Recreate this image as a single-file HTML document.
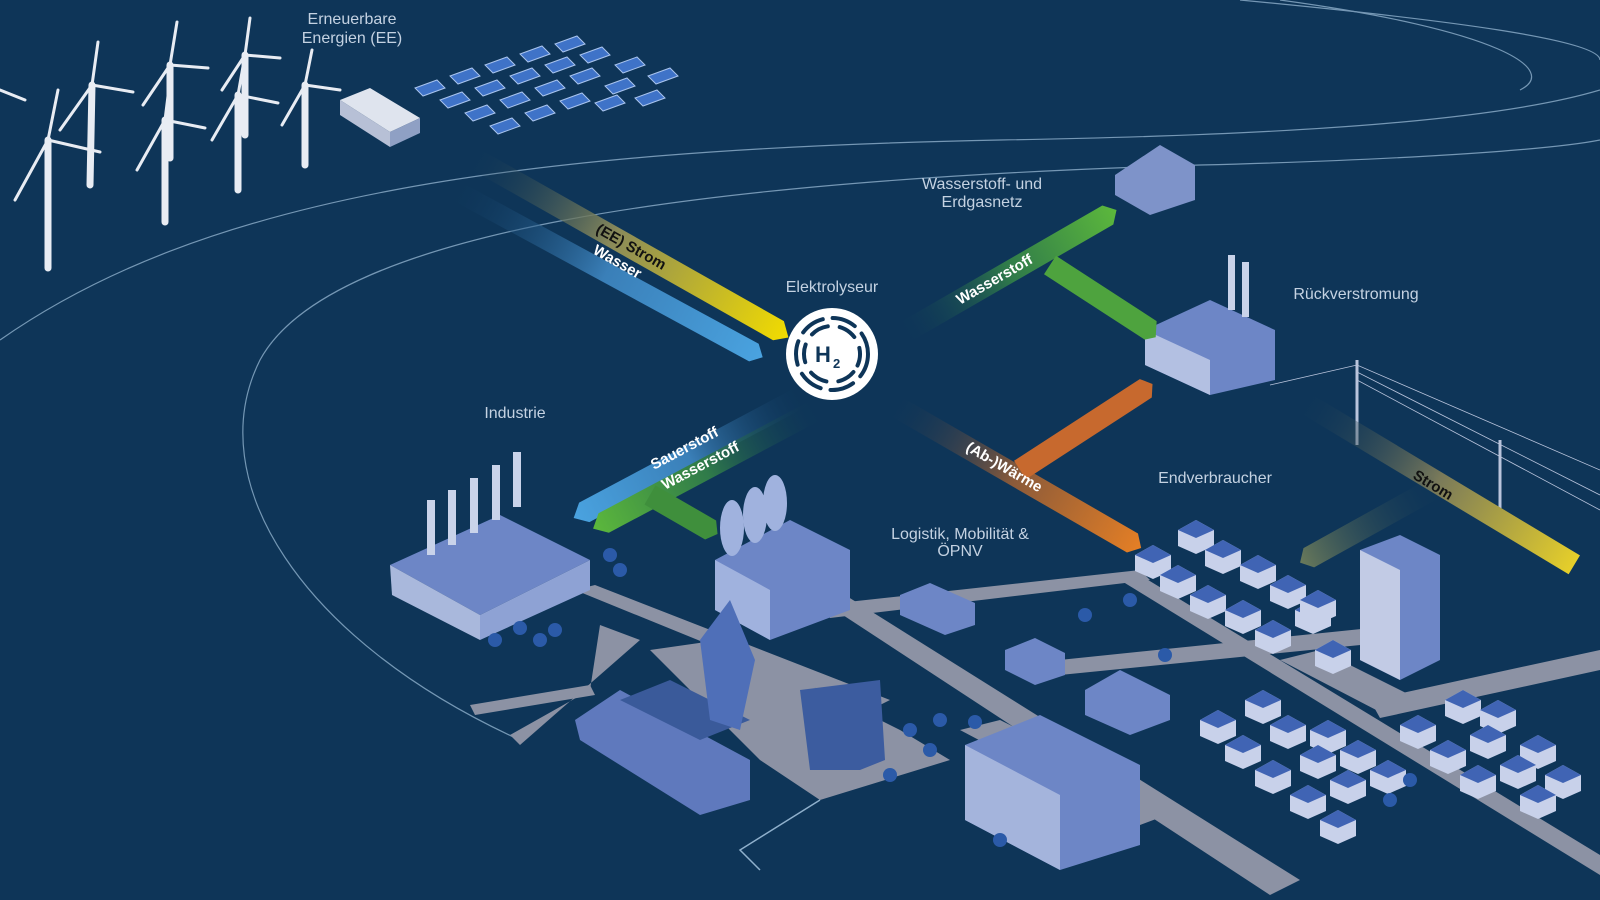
<!DOCTYPE html>
<html><head><meta charset="utf-8"><style>
html,body{margin:0;padding:0;background:#0e3558;}
svg{display:block}
text{font-family:"Liberation Sans",sans-serif;}
</style></head><body>
<svg width="1600" height="900" viewBox="0 0 1600 900" xmlns="http://www.w3.org/2000/svg">
<defs>
<linearGradient id="gy" x1="0" x2="1"><stop offset="0" stop-color="#0e3558" stop-opacity="0"/><stop offset="0.45" stop-color="#8a8a5a"/><stop offset="1" stop-color="#f2dc00"/></linearGradient>
<linearGradient id="gb" x1="0" x2="1"><stop offset="0" stop-color="#0e3558" stop-opacity="0"/><stop offset="0.5" stop-color="#3a7fb8"/><stop offset="1" stop-color="#4aa3e0"/></linearGradient>
<linearGradient id="gg" x1="0" x2="1"><stop offset="0" stop-color="#0e3558" stop-opacity="0"/><stop offset="0.5" stop-color="#2f7a4a"/><stop offset="1" stop-color="#5cb83c"/></linearGradient>
<linearGradient id="go" x1="0" x2="1"><stop offset="0" stop-color="#0e3558" stop-opacity="0"/><stop offset="0.5" stop-color="#8a5a3a"/><stop offset="1" stop-color="#e57f25"/></linearGradient>
<linearGradient id="gs" x1="0" x2="1"><stop offset="0" stop-color="#0e3558" stop-opacity="0"/><stop offset="0.5" stop-color="#7a7a5a"/><stop offset="1" stop-color="#e6cf2a"/></linearGradient>
<linearGradient id="gsb" x1="0" x2="1"><stop offset="0" stop-color="#0e3558" stop-opacity="0"/><stop offset="1" stop-color="#6a7a5a"/></linearGradient>
<g id="sp"><polygon points="0,8 22,0 30,8 8,16" fill="#3f73c8" stroke="#a9c4ee" stroke-width="1"/></g>
<g id="h"><polygon points="0,10 18,0 36,10 36,26 18,34 0,26" fill="#c8d1ea"/><polygon points="0,10 18,0 36,10 18,18" fill="#4064b4"/></g>
</defs>
<rect width="1600" height="900" fill="#0e3558"/>
<!-- curves -->
<g fill="none" stroke="#8fb0cc" stroke-width="1.2" opacity="0.8">
<path d="M0,340 C200,200 500,150 1000,140 C1300,135 1500,120 1600,90"/>
<path d="M520,740 C300,640 200,480 260,360 C330,230 700,180 1200,165 C1400,160 1550,150 1600,140"/>
<path d="M1240,0 C1450,20 1600,40 1600,60"/>
<path d="M1280,0 C1500,30 1560,70 1520,90"/>
</g>
<!-- wind turbines -->
<g stroke="#e8ecf3" fill="#e8ecf3" stroke-linecap="round">
<g stroke-width="7"><line x1="48" y1="268" x2="48" y2="140"/><line x1="90" y1="185" x2="92" y2="85"/><line x1="165" y1="222" x2="165" y2="120"/><line x1="170" y1="158" x2="170" y2="65"/><line x1="238" y1="190" x2="238" y2="95"/><line x1="245" y1="135" x2="245" y2="55"/><line x1="305" y1="165" x2="305" y2="85"/></g>
<g stroke-width="3">
<path d="M48,140 L15,200 M48,140 L100,152 M48,140 L58,90"/>
<path d="M92,85 L60,130 M92,85 L133,92 M92,85 L98,42"/>
<path d="M165,120 L137,170 M165,120 L205,128 M165,120 L170,80"/>
<path d="M170,65 L143,105 M170,65 L208,68 M170,65 L177,22"/>
<path d="M238,95 L212,140 M238,95 L278,103 M238,95 L245,55"/>
<path d="M245,55 L222,90 M245,55 L280,58 M245,55 L250,18"/>
<path d="M305,85 L282,125 M305,85 L340,90 M305,85 L312,50"/>
<path d="M0,90 L25,100"/>
</g></g>
<!-- container -->
<polygon points="340,100 370,88 420,118 390,132" fill="#dfe4ee"/><polygon points="340,100 390,132 390,147 340,115" fill="#b7c0d6"/><polygon points="390,132 420,118 420,133 390,147" fill="#8fa0c4"/>
<!-- solar panels -->
<use href="#sp" x="415" y="80"/><use href="#sp" x="450" y="68"/><use href="#sp" x="485" y="57"/><use href="#sp" x="520" y="46"/><use href="#sp" x="555" y="36"/>
<use href="#sp" x="440" y="92"/><use href="#sp" x="475" y="80"/><use href="#sp" x="510" y="68"/><use href="#sp" x="545" y="57"/><use href="#sp" x="580" y="47"/><use href="#sp" x="615" y="57"/><use href="#sp" x="648" y="68"/>
<use href="#sp" x="465" y="105"/><use href="#sp" x="500" y="92"/><use href="#sp" x="535" y="80"/><use href="#sp" x="570" y="68"/><use href="#sp" x="605" y="78"/><use href="#sp" x="635" y="90"/>
<use href="#sp" x="490" y="118"/><use href="#sp" x="525" y="105"/><use href="#sp" x="560" y="93"/><use href="#sp" x="595" y="95"/>
<!-- ground / roads -->
<g fill="#8c92a4">
<polygon points="575,590 595,585 890,700 870,710"/>
<polygon points="820,600 845,595 1300,880 1270,895"/>
<polygon points="600,625 640,640 520,745 510,735 590,690"/>
<polygon points="470,705 590,685 595,695 475,715"/>
<polygon points="820,605 1140,570 1150,580 830,618"/>
<polygon points="1120,580 1140,575 1600,855 1600,875"/>
<polygon points="1040,662 1400,625 1410,640 1050,676"/>
<polygon points="650,650 720,640 900,730 950,760 820,800 760,760 700,700"/>
<polygon points="960,730 1000,720 1180,810 1140,825"/>
<polygon points="1280,660 1320,650 1420,700 1380,712"/>
<polygon points="1370,700 1600,650 1600,670 1380,718"/>
</g>
<g fill="none" stroke="#8fb0cc" stroke-width="1.5"><path d="M820,800 L740,850 L760,870"/></g>
<!-- buildings (simplified blue blocks) -->
<g fill="#6d86c6">
<polygon points="390,565 500,515 590,560 480,615"/>
<polygon points="390,565 480,615 480,640 392,595" fill="#a9b8dc"/>
<polygon points="480,615 590,560 590,590 480,640" fill="#8ea2d4"/>
<rect x="427" y="500" width="8" height="55" fill="#c9d3ea"/><rect x="448" y="490" width="8" height="55" fill="#c9d3ea"/><rect x="470" y="478" width="8" height="55" fill="#c9d3ea"/><rect x="492" y="465" width="8" height="55" fill="#c9d3ea"/><rect x="513" y="452" width="8" height="55" fill="#c9d3ea"/>
<polygon points="715,560 790,520 850,550 850,610 770,640 715,610"/>
<polygon points="715,560 770,590 770,640 715,610" fill="#a0b2de"/>
<ellipse cx="732" cy="528" rx="12" ry="28" fill="#a0b2de"/><ellipse cx="755" cy="515" rx="12" ry="28" fill="#a0b2de"/><ellipse cx="775" cy="503" rx="12" ry="28" fill="#a0b2de"/>
<polygon points="1145,330 1210,300 1275,330 1275,380 1210,395 1145,365"/>
<polygon points="1145,330 1210,360 1210,395 1145,365" fill="#b3c0e2"/>
<rect x="1228" y="255" width="7" height="55" fill="#c9d3ea"/><rect x="1242" y="262" width="7" height="55" fill="#c9d3ea"/>
<polygon points="1115,175 1160,145 1195,165 1195,200 1150,215 1115,195" fill="#7e93c9"/>
<polygon points="1360,550 1400,535 1440,555 1440,660 1400,680 1360,660"/>
<polygon points="1360,550 1400,570 1400,680 1360,660" fill="#c2cbe5"/>
<polygon points="965,745 1040,715 1140,765 1140,845 1060,870 965,820"/>
<polygon points="965,745 1060,795 1060,870 965,820" fill="#a4b4dc"/>
<polygon points="1085,690 1120,670 1170,695 1170,720 1130,735 1085,715"/>
<polygon points="900,595 930,583 975,603 975,625 945,635 900,615"/>
<polygon points="1005,650 1035,638 1065,653 1065,675 1035,685 1005,670"/>
<polygon points="575,720 620,690 750,760 750,800 700,815 580,740" fill="#5f79bd"/>
<polygon points="620,700 700,740 750,720 670,680" fill="#3a5a9a"/>
<polygon points="700,640 730,600 755,660 740,730 710,720" fill="#4f6fb8"/>
<polygon points="800,690 880,680 885,760 860,770 810,770" fill="#3c5c9f"/>
</g>
<!-- houses -->
<use href="#h" x="1135" y="545"/><use href="#h" x="1178" y="520"/><use href="#h" x="1160" y="565"/><use href="#h" x="1205" y="540"/><use href="#h" x="1240" y="555"/><use href="#h" x="1190" y="585"/><use href="#h" x="1225" y="600"/><use href="#h" x="1270" y="575"/><use href="#h" x="1255" y="620"/><use href="#h" x="1295" y="600"/><use href="#h" x="1315" y="640"/><use href="#h" x="1300" y="590"/>
<use href="#h" x="1200" y="710"/><use href="#h" x="1245" y="690"/><use href="#h" x="1225" y="735"/><use href="#h" x="1270" y="715"/><use href="#h" x="1310" y="720"/><use href="#h" x="1255" y="760"/><use href="#h" x="1300" y="745"/><use href="#h" x="1340" y="740"/><use href="#h" x="1290" y="785"/><use href="#h" x="1330" y="770"/><use href="#h" x="1370" y="760"/><use href="#h" x="1320" y="810"/>
<use href="#h" x="1400" y="715"/><use href="#h" x="1445" y="690"/><use href="#h" x="1480" y="700"/><use href="#h" x="1430" y="740"/><use href="#h" x="1470" y="725"/><use href="#h" x="1520" y="735"/><use href="#h" x="1460" y="765"/><use href="#h" x="1500" y="755"/><use href="#h" x="1545" y="765"/><use href="#h" x="1520" y="785"/>
<!-- trees -->
<g fill="#2b5aa8"><circle cx="610" cy="555" r="7"/><circle cx="620" cy="570" r="7"/><circle cx="495" cy="640" r="7"/><circle cx="520" cy="628" r="7"/><circle cx="540" cy="640" r="7"/><circle cx="555" cy="630" r="7"/><circle cx="910" cy="730" r="7"/><circle cx="940" cy="720" r="7"/><circle cx="975" cy="722" r="7"/><circle cx="930" cy="750" r="7"/><circle cx="890" cy="775" r="7"/><circle cx="1085" cy="615" r="7"/><circle cx="1130" cy="600" r="7"/><circle cx="1165" cy="655" r="7"/><circle cx="1000" cy="840" r="7"/><circle cx="1390" cy="800" r="7"/><circle cx="1410" cy="780" r="7"/></g>
<!-- power poles -->
<g stroke="#b9c4dc" stroke-width="3"><line x1="1357" y1="360" x2="1357" y2="445"/><line x1="1500" y1="440" x2="1500" y2="528"/></g>
<g stroke="#b9c4dc" stroke-width="0.8" fill="none"><path d="M1270,385 L1357,365 L1600,470"/><path d="M1357,372 L1600,495"/><path d="M1357,380 L1600,510"/></g>
<!-- arrows -->
<g>
<g transform="translate(455,180) rotate(28.5)"><polygon points="0,-10 345,-10 355,0 345,10 0,10" transform="translate(0,9)" fill="url(#gb)"/></g>
<g transform="translate(470,155) rotate(29.5)"><polygon points="0,-10 355,-10 367,2 355,12 0,12" fill="url(#gy)"/></g>
<g transform="translate(900,335) rotate(-30)"><polygon points="0,-11 240,-11 250,0 240,11 0,11" fill="url(#gg)"/></g>
<g transform="translate(1050,265) rotate(33)"><polygon points="0,-11 120,-11 128,3 120,11 0,11" fill="#4ea33e"/></g>
<g transform="translate(805,395) rotate(152)"><polygon points="0,-11 250,-11 262,0 250,11 0,11" fill="url(#gb)"/></g>
<g transform="translate(820,408) rotate(152)"><polygon points="0,-11 245,-11 257,0 245,11 0,11" fill="url(#gg)"/></g>
<g transform="translate(650,495) rotate(30)"><polygon points="0,-11 70,-11 78,0 70,11 0,11" fill="#3f8f3c"/></g>
<g transform="translate(890,403) rotate(30)"><polygon points="0,-11 280,-11 290,0 280,11 0,11" fill="url(#go)"/></g>
<g transform="translate(1020,470) rotate(-33)"><polygon points="0,-11 150,-11 158,0 150,11 0,11" fill="#c7692e"/></g>
<g transform="translate(1300,400) rotate(31)"><rect x="0" y="-11" width="320" height="22" fill="url(#gs)"/></g>
<g transform="translate(1440,485) rotate(151)"><polygon points="0,-11 150,-11 160,0 150,11 0,11" fill="url(#gsb)"/></g>
</g>
<!-- arrow labels -->
<g font-weight="bold" font-size="15">
<text transform="translate(595,232) rotate(29.5)" fill="#111">(EE) Strom</text>
<text transform="translate(592,253) rotate(29.5)" fill="#fff">Wasser</text>
<text transform="translate(960,305) rotate(-30)" fill="#fff">Wasserstoff</text>
<text transform="translate(654,470) rotate(-28)" fill="#fff">Sauerstoff</text>
<text transform="translate(665,490) rotate(-28)" fill="#fff">Wasserstoff</text>
<text transform="translate(965,450) rotate(30)" fill="#fff">(Ab-)Wärme</text>
<text transform="translate(1412,478) rotate(31)" fill="#111">Strom</text>
</g>
<!-- H2 logo -->
<circle cx="832" cy="354" r="46" fill="#fff"/>
<g fill="none" stroke="#0e3558" stroke-width="4" stroke-linecap="round">
<circle cx="832" cy="354" r="36" stroke-dasharray="24 10"/>
<circle cx="832" cy="354" r="28" stroke-dasharray="18 12" transform="rotate(40 832 354)"/>
</g>
<text x="815" y="362" font-size="22" font-weight="bold" fill="#0e3558">H</text><text x="833" y="368" font-size="13" font-weight="bold" fill="#0e3558">2</text>
<!-- labels -->
<g fill="#c4d2e2" font-size="16" text-anchor="middle">
<text x="352" y="24">Erneuerbare</text><text x="352" y="43">Energien (EE)</text>
<text x="982" y="189">Wasserstoff- und</text><text x="982" y="207">Erdgasnetz</text>
<text x="832" y="292">Elektrolyseur</text>
<text x="1356" y="299">Rückverstromung</text>
<text x="515" y="418">Industrie</text>
<text x="1215" y="483">Endverbraucher</text>
<text x="960" y="539">Logistik, Mobilität &amp;</text><text x="960" y="556">ÖPNV</text>
</g>
</svg>
</body></html>
